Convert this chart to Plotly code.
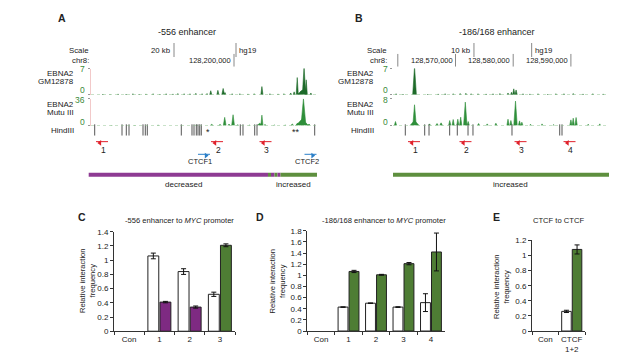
import plotly.graph_objects as go

W, H = 617, 356
FONT = "Liberation Sans, Arial, sans-serif"
TXT = "#222222"
PURPLE = "#7E2A82"
GREEN_BAR = "#4E7D34"
REG_COL = {"decreased": "#8E3B93", "increased": "#5E8F3E"}
GM_COL = "#1E6B2A"
MU_COL = "#2F8F3A"
TRACK_LBL = "#3A8A3A"

# ======================= DATA =======================
# ---- Panel A: -556 enhancer (chr8 positions in kb) ----
A_gm_pos = [128157.7, 128160.0, 128162.6, 128165.2, 128167.4, 128169.4, 128171.6, 128173.9,
            128176.1, 128178.1, 128180.3, 128181.9, 128183.9, 128185.8, 128187.7, 128189.7,
            128191.3, 128192.5, 128194.8, 128196.5, 128197.1, 128199.4, 128201.9, 128204.5,
            128206.5, 128209.0, 128211.6, 128214.2, 128216.1, 128218.3, 128219.4, 128220.4,
            128221.5, 128222.0, 128222.6, 128223.3, 128224.8]
A_gm_h = [0.2, 0.15, 0.25, 0.2, 0.3, 0.2, 0.25, 0.3,
          0.2, 0.3, 0.25, 0.35, 0.3, 0.3, 0.4, 0.3,
          0.35, 1.1, 1.2, 1.7, 0.6, 0.3, 0.3, 0.25,
          0.3, 2.2, 0.3, 0.25, 0.3, 0.5, 0.8, 4.6,
          0.9, 1.3, 7.5, 4.0, 0.5]
A_gm_w = [0.2, 0.2, 0.2, 0.2, 0.2, 0.2, 0.2, 0.2,
          0.2, 0.2, 0.2, 0.2, 0.2, 0.2, 0.2, 0.2,
          0.2, 0.35, 0.35, 0.45, 0.3, 0.2, 0.2, 0.2,
          0.2, 0.35, 0.2, 0.2, 0.2, 0.3, 0.3, 0.35,
          0.3, 1.6, 0.55, 0.35, 0.3]

A_mu_pos = [128160.5, 128168.0, 128175.5, 128183.0, 128188.0, 128192.8, 128195.5, 128197.0,
            128198.4, 128199.7, 128201.2, 128205.0, 128208.3, 128209.0, 128210.0, 128213.0,
            128216.5, 128218.8, 128220.5, 128222.0, 128222.4, 128224.2]
A_mu_h = [0.4, 0.5, 0.6, 0.5, 0.8, 1.6, 1.5, 11.0,
          2.0, 14.5, 1.0, 0.6, 3.0, 14.0, 1.5, 0.8,
          0.7, 2.0, 3.5, 9.0, 36.0, 2.0]
A_mu_w = [0.3, 0.3, 0.3, 0.3, 0.3, 0.5, 0.5, 0.45,
          0.4, 0.45, 0.4, 0.3, 0.9, 0.35, 0.4, 0.3,
          0.3, 0.5, 0.6, 2.0, 0.8, 0.5]

A_hind = [128155.06, 128163.87, 128165.26, 128166.13, 128170.65, 128171.39, 128172.03,
          128183.00, 128186.45, 128187.10, 128187.84, 128188.39, 128188.94, 128189.45,
          128202.03, 128202.90, 128206.68, 128207.42, 128226.03]
A_primer_pos = [128157.42, 128194.52, 128210.16]
A_primer_lbl = ["1", "2", "3"]
A_ctcf_pos = [128190.32, 128224.68]
A_ctcf_lbl = ["CTCF1", "CTCF2"]
A_reg_start = [128153.13, 128210.97, 128211.94, 128213.06, 128214.03, 128215.00]
A_reg_end = [128210.97, 128211.94, 128213.06, 128214.03, 128215.00, 128226.77]
A_reg_eff = ["decreased", "increased", "decreased", "increased", "decreased", "increased"]
A_ruler_ticks = [128200]
A_ruler_lbl = ["128,200,000"]
A_scale_start = 128180.65
A_scale_kb = 20
A_scale_lbl = "20 kb"

# ---- Panel B: -186/168 enhancer ----
B_gm_pos = [128559.7, 128560.9, 128562.9, 128565.2, 128567.0, 128568.2, 128569.6, 128570.8,
            128571.8, 128572.7, 128573.9, 128575.3, 128576.5, 128577.7, 128579.1, 128579.7,
            128580.1, 128580.5, 128581.7, 128582.9, 128584.3, 128586.0, 128587.4, 128588.8,
            128590.4, 128592.1, 128593.8, 128595.6, 128597.1]
B_gm_h = [0.3, 0.2, 7.5, 0.2, 0.25, 0.3, 0.3, 0.35,
          0.4, 0.3, 0.3, 0.25, 0.3, 0.35, 0.5, 0.7,
          1.6, 1.3, 0.3, 0.25, 0.3, 0.2, 0.3, 0.3,
          0.35, 0.25, 0.3, 0.25, 0.3]
B_gm_w = [0.12, 0.12, 0.32, 0.12, 0.12, 0.12, 0.12, 0.12,
          0.12, 0.12, 0.12, 0.12, 0.12, 0.12, 0.15, 0.15,
          0.2, 0.2, 0.12, 0.12, 0.12, 0.12, 0.12, 0.12,
          0.12, 0.12, 0.12, 0.12, 0.12]

B_mu_pos = [128559.6, 128562.9, 128562.9, 128565.5, 128566.8, 128567.5, 128569.0, 128569.6,
            128570.4, 128570.9, 128571.7, 128572.2, 128574.0, 128575.5, 128577.0, 128579.1,
            128579.6, 128580.4, 128581.1, 128581.5, 128583.0, 128585.0, 128587.0, 128590.0,
            128590.4, 128590.9, 128593.0, 128595.0, 128597.0]
B_mu_h = [1.2, 1.5, 6.2, 0.5, 0.6, 0.8, 1.5, 1.8,
          1.9, 2.5, 7.0, 1.2, 0.6, 0.5, 0.7, 1.9,
          1.5, 7.3, 1.4, 1.0, 0.4, 0.5, 0.3, 1.7,
          2.2, 2.4, 0.4, 0.5, 0.4]
B_mu_w = [0.2, 0.8, 0.3, 0.2, 0.25, 0.25, 0.2, 0.2,
          0.2, 0.2, 0.3, 0.2, 0.2, 0.2, 0.2, 0.2,
          0.2, 0.3, 0.2, 0.2, 0.15, 0.15, 0.15, 0.2,
          0.2, 0.2, 0.15, 0.15, 0.15]

B_hind = [128561.30, 128564.66, 128565.41, 128568.99, 128570.31, 128572.17, 128573.03,
          128579.79, 128588.06, 128588.46, 128596.90]
B_primer_pos = [128562.81, 128571.73, 128581.27, 128589.76]
B_primer_lbl = ["1", "2", "3", "4"]
B_reg_start = [128559.17]
B_reg_end = [128598.16]
B_reg_eff = ["increased"]
B_ruler_ticks = [128560, 128570, 128580, 128590]
B_ruler_lbl = ["", "128,570,000", "128,580,000", "128,590,000"]
B_scale_start = 128573.2
B_scale_kb = 10
B_scale_lbl = "10 kb"

# ---- Panel C ----
C_cats = ["Con", "1", "2", "3"]
C_ctrl = [None, 1.06, 0.84, 0.52]
C_ctrl_err = [0, 0.04, 0.04, 0.03]
C_test = [None, 0.41, 0.34, 1.21]
C_test_err = [0, 0.01, 0.015, 0.02]
C_test_eff = ["", "decreased", "decreased", "increased"]

# ---- Panel D ----
D_cats = ["Con", "1", "2", "3", "4"]
D_ctrl = [None, 0.43, 0.50, 0.43, 0.51]
D_ctrl_err = [0, 0.004, 0.004, 0.006, 0.16]
D_test = [None, 1.07, 1.01, 1.21, 1.42]
D_test_err = [0, 0.02, 0.008, 0.02, 0.34]
D_test_eff = ["", "increased", "increased", "increased", "increased"]

# ---- Panel E ----
E_cats = ["Con", "CTCF<br>1+2"]
E_ctrl = [None, 0.26]
E_ctrl_err = [0, 0.015]
E_test = [None, 1.08]
E_test_err = [0, 0.06]
E_test_eff = ["", "increased"]

# ======================= HELPERS =======================
def PX(x):
    return x / W

def PY(y):
    return 1 - y / H

def sfx(i):
    return "" if i == 1 else str(i)

A_REF_PX, A_REF_KB, A_KPP = 226.0, 128200.0, 20 / 62.0
B_REF_PX, B_REF_KB, B_KPP = 447.5, 128570.0, 10 / 57.7


def kb_range(x0, x1, ref_px, ref_kb, kpp):
    return [ref_kb + (x0 - ref_px) * kpp, ref_kb + (x1 - ref_px) * kpp]


def peaks(pos, h, w):
    xs, ys = [], []
    for p, hh, ww in zip(pos, h, w):
        xs += [p - ww, p, p + ww, None]
        ys += [0, hh, 0, None]
    return xs, ys


fig = go.Figure()
ann = []
shapes = []
layout_axes = {}


def text(t, x, y, xa="center", size=8, color=TXT, bold=False, xref="paper", yref="paper",
         xshift=0, angle=0):
    if xref == "paper":
        x = PX(x)
    if yref == "paper":
        y = PY(y)
    if bold:
        t = "<b>" + t + "</b>"
    ann.append(dict(text=t, x=x, y=y, xref=xref, yref=yref, xanchor=xa, yanchor="middle",
                    showarrow=False, xshift=xshift, textangle=angle,
                    font=dict(family=FONT, size=size, color=color)))


# ======================= GENOME TRACKS =======================
def genome_panel(ax, ref, dom, ovl_dom, gm, mu, mu_max, hind, primers, plbl,
                 reg, ruler, scale, ctcf=None, show_axis_line=False):
    ref_px, ref_kb, kpp = ref
    xr = kb_range(dom[0], dom[1], ref_px, ref_kb, kpp)
    xo = kb_range(ovl_dom[0], ovl_dom[1], ref_px, ref_kb, kpp)
    i1, i2, i3 = [sfx(i) for i in ax]
    gx, gy = peaks(*gm)
    fig.add_trace(go.Scatter(x=gx, y=gy, mode="lines", fill="toself", fillcolor=GM_COL,
                             line=dict(color=GM_COL, width=0.6), xaxis="x" + i1,
                             yaxis="y" + i1, hoverinfo="skip", showlegend=False))
    mx, my = peaks(*mu)
    fig.add_trace(go.Scatter(x=mx, y=my, mode="lines", fill="toself", fillcolor=MU_COL,
                             line=dict(color=MU_COL, width=0.6), xaxis="x" + i2,
                             yaxis="y" + i2, hoverinfo="skip", showlegend=False))
    yax_common = dict(showgrid=False, zeroline=False, showticklabels=False, ticks="outside",
                      ticklen=2, tickcolor="#999", tickwidth=1,
                      showline=show_axis_line, linecolor="#F2C9C9", linewidth=1)
    layout_axes["xaxis" + i1] = dict(domain=[PX(dom[0]), PX(dom[1])], range=xr, visible=False,
                                     anchor="y" + i1)
    layout_axes["yaxis" + i1] = dict(domain=[PY(85), PY(58)], range=[0, 7], anchor="x" + i1,
                                     tickvals=[0, 7], **yax_common)
    layout_axes["xaxis" + i2] = dict(domain=[PX(dom[0]), PX(dom[1])], range=xr, visible=False,
                                     anchor="y" + i2)
    layout_axes["yaxis" + i2] = dict(domain=[PY(116.5), PY(89)], range=[0, mu_max],
                                     anchor="x" + i2, tickvals=[0, mu_max], **yax_common)
    for i in (i1, i2):
        shapes.append(dict(type="line", xref="x%s domain" % i, yref="y" + i, x0=0, x1=1,
                           y0=0, y1=0, line=dict(color="#8FC28F", width=1, dash="dot")))
    layout_axes["xaxis" + i3] = dict(domain=[PX(ovl_dom[0]), PX(ovl_dom[1])], range=xo,
                                     visible=False, anchor="y" + i3)
    layout_axes["yaxis" + i3] = dict(domain=[PY(182), PY(28)], range=[182, 28],
                                     visible=False, anchor="x" + i3)
    xa, ya = "x" + i3, "y" + i3
    fig.add_trace(go.Scatter(x=hind, y=[121] * len(hind), mode="markers", xaxis=xa, yaxis=ya,
                             marker=dict(symbol="line-ns", size=8,
                                         line=dict(color="#555", width=1)),
                             hoverinfo="skip", showlegend=False))
    hw = 6 * kpp
    lx, ly = [], []
    for p in primers:
        lx += [p - hw, p + hw, None]
        ly += [133, 133, None]
    fig.add_trace(go.Scatter(x=lx, y=ly, mode="lines", xaxis=xa, yaxis=ya,
                             line=dict(color="#E0202A", width=1), hoverinfo="skip",
                             showlegend=False))
    fig.add_trace(go.Scatter(x=[p - hw * 0.35 for p in primers], y=[134.3] * len(primers),
                             mode="markers", xaxis=xa, yaxis=ya,
                             marker=dict(symbol="triangle-left", size=5, color="#E0202A",
                                         line=dict(width=0)),
                             hoverinfo="skip", showlegend=False))
    for p, l in zip(primers, plbl):
        text(l, p, 141.5, xref=xa, yref=ya, size=8.5, xshift=1)
    if ctcf:
        cpos, clbl = ctcf
        lx, ly = [], []
        for p in cpos:
            lx += [p - hw, p + hw, None]
            ly += [146, 146, None]
        fig.add_trace(go.Scatter(x=lx, y=ly, mode="lines", xaxis=xa, yaxis=ya,
                                 line=dict(color="#2A7FC8", width=1), hoverinfo="skip",
                                 showlegend=False))
        fig.add_trace(go.Scatter(x=[p + hw * 0.35 for p in cpos], y=[147.3] * len(cpos),
                                 mode="markers", xaxis=xa, yaxis=ya,
                                 marker=dict(symbol="triangle-right", size=5, color="#2A7FC8",
                                             line=dict(width=0)),
                                 hoverinfo="skip", showlegend=False))
        for p, l in zip(cpos, clbl):
            text(l, p, 153, xref=xa, yref=ya, size=7.5, xshift=-4)
    rs, re_, eff = reg
    for s, e, f in zip(rs, re_, eff):
        fig.add_trace(go.Scatter(x=[s, e], y=[167, 167], mode="lines", xaxis=xa, yaxis=ya,
                                 line=dict(color=REG_COL[f], width=4), hoverinfo="skip",
                                 showlegend=False))
    rt, rl = ruler
    ss, skb, slbl = scale
    fig.add_trace(go.Scatter(x=[ss, ss + skb], y=[39, 39], mode="markers", xaxis=xa, yaxis=ya,
                             marker=dict(symbol="line-ns", size=10,
                                         line=dict(color="#888", width=1)),
                             hoverinfo="skip", showlegend=False))
    fig.add_trace(go.Scatter(x=rt, y=[49.5] * len(rt), mode="markers", xaxis=xa, yaxis=ya,
                             marker=dict(symbol="line-ns", size=9,
                                         line=dict(color="#888", width=1)),
                             hoverinfo="skip", showlegend=False))
    text(slbl, ss, 39, xa="right", xref=xa, yref=ya, size=7.8, xshift=-1)
    text("hg19", ss + skb, 39, xa="left", xref=xa, yref=ya, size=7.8, xshift=1)
    for t, l in zip(rt, rl):
        if l:
            text(l, t, 50, xa="right", xref=xa, yref=ya, size=7.5, xshift=-1)


genome_panel((1, 2, 3), (A_REF_PX, A_REF_KB, A_KPP), (83, 308), (74, 316),
             (A_gm_pos, A_gm_h, A_gm_w), (A_mu_pos, A_mu_h, A_mu_w), 36, A_hind,
             A_primer_pos, A_primer_lbl, (A_reg_start, A_reg_end, A_reg_eff),
             (A_ruler_ticks, A_ruler_lbl), (A_scale_start, A_scale_kb, A_scale_lbl),
             ctcf=(A_ctcf_pos, A_ctcf_lbl), show_axis_line=True)
genome_panel((4, 5, 6), (B_REF_PX, B_REF_KB, B_KPP), (385, 608), (376, 616),
             (B_gm_pos, B_gm_h, B_gm_w), (B_mu_pos, B_mu_h, B_mu_w), 8, B_hind,
             B_primer_pos, B_primer_lbl, (B_reg_start, B_reg_end, B_reg_eff),
             (B_ruler_ticks, B_ruler_lbl), (B_scale_start, B_scale_kb, B_scale_lbl))

text("A", 53.5, 6, size=10.5, bold=True)
text("B", 351, 6, size=10.5, bold=True)
text("-556 enhancer", 179, 20.7, size=9)
text("-186/168 enhancer", 489, 20.7, size=9)
for rx in (67.5, 367.5):
    text("EBNA2", rx, 62.7, xa="right", size=8)
    text("GM12878", rx, 71.2, xa="right", size=8)
    text("EBNA2", rx, 94.5, xa="right", size=8)
    text("Mutu III", rx, 103.2, xa="right", size=8)
    text("HindIII", rx, 122, xa="right", size=8)
text("Scale", 83, 39, xa="right", size=7.8)
text("chr8:", 83, 50, xa="right", size=7.8)
text("Scale", 380.5, 39, xa="right", size=7.8)
text("chr8:", 381, 50, xa="right", size=7.8)
for rx, top_lbl in ((79, "36"), (381.5, "8")):
    text("7", rx, 58.3, xa="right", size=8.5, color=TRACK_LBL)
    text("0", rx, 80.5, xa="right", size=8.5, color=TRACK_LBL)
    text(top_lbl, rx, 90, xa="right", size=8.5, color=TRACK_LBL)
    text("0", rx, 112.5, xa="right", size=8.5, color=TRACK_LBL)
text("*", 200, 123.5, size=9)
text("**", 287.5, 123.5, size=9)
text("decreased", 175, 177, size=8)
text("increased", 285, 177, size=8)
text("increased", 502, 177, size=8)

# ======================= BAR CHARTS =======================
EFF_COL = {"": "white", "decreased": PURPLE, "increased": GREEN_BAR}


def bar_panel(i, cats, ctrl, ctrl_err, test, test_err, eff, xdom, y0px, ytop_px, ymax,
              title, title_x, letter_x, ylab_x):
    s = sfx(i)
    xa, ya = "x" + s, "y" + s
    fig.add_trace(go.Bar(x=cats, y=ctrl, xaxis=xa, yaxis=ya, offsetgroup="a",
                         marker=dict(color="white", line=dict(color="#222", width=1)),
                         error_y=dict(type="data", array=ctrl_err, color="#111", thickness=1,
                                      width=2.5),
                         hoverinfo="skip", showlegend=False))
    fig.add_trace(go.Bar(x=cats, y=test, xaxis=xa, yaxis=ya, offsetgroup="b",
                         marker=dict(color=[EFF_COL[e] for e in eff],
                                     line=dict(color="#222", width=1)),
                         error_y=dict(type="data", array=test_err, color="#111", thickness=1,
                                      width=2.5),
                         hoverinfo="skip", showlegend=False))
    layout_axes["xaxis" + s] = dict(
        domain=[PX(xdom[0]), PX(xdom[1])], anchor=ya, type="category",
        categoryorder="array", categoryarray=cats, range=[-0.5, len(cats) - 0.5],
        showline=True, linecolor="#333", linewidth=1, ticks="outside", ticklen=3,
        tickcolor="#333", tickson="boundaries", showgrid=False, zeroline=False,
        tickangle=0, tickfont=dict(family=FONT, size=8, color=TXT))
    layout_axes["yaxis" + s] = dict(
        domain=[PY(y0px), PY(ytop_px)], anchor=xa, range=[0, ymax], tick0=0, dtick=0.2,
        showline=True, linecolor="#333", linewidth=1, ticks="outside", ticklen=3,
        tickcolor="#333", showgrid=False, zeroline=False,
        tickfont=dict(family=FONT, size=8, color=TXT))
    text(title, title_x, 214.3, size=7.6)
    text(letter_x[0], letter_x[1], 210, size=10.5, bold=True)
    text("Relative interaction<br>frequency", ylab_x[0], ylab_x[1], size=7.6, angle=-90)


bar_panel(7, C_cats, C_ctrl, C_ctrl_err, C_test, C_test_err, C_test_eff, (106, 227), 327.5,
          225.5, 1.4, "-556 enhancer to <i>MYC</i> promoter", 171.7, ("C", 74), (79, 276))
bar_panel(8, D_cats, D_ctrl, D_ctrl_err, D_test, D_test_err, D_test_eff, (299.3, 436.7),
          327.3, 224.5, 1.8, "-186/168 enhancer to <i>MYC</i> promoter", 376, ("D", 252),
          (269.5, 276))
bar_panel(9, E_cats, E_ctrl, E_ctrl_err, E_test, E_test_err, E_test_eff, (524, 577), 327.3,
          234.3, 1.2, "CTCF to CTCF", 550, ("E", 488.5), (493.5, 281.7))

fig.update_layout(
    width=W, height=H, margin=dict(l=0, r=0, t=0, b=0, pad=0),
    paper_bgcolor="white", plot_bgcolor="rgba(0,0,0,0)",
    barmode="group", bargap=0.2, bargroupgap=0.1,
    font=dict(family=FONT, size=8, color=TXT),
    annotations=ann, shapes=shapes, showlegend=False,
    **layout_axes)

fig.write_html("out.html")
